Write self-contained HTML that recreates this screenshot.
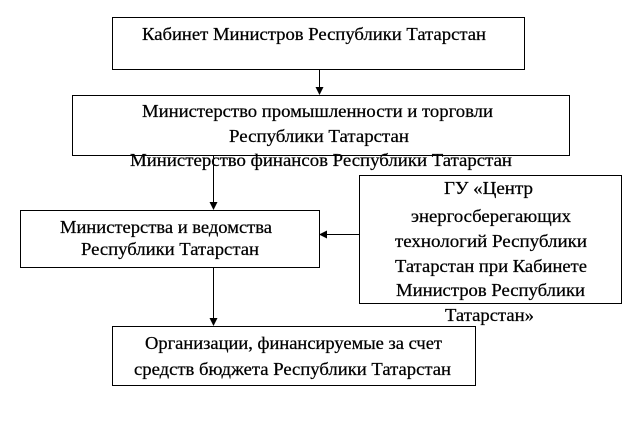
<!DOCTYPE html>
<html><head><meta charset="utf-8"><style>
html,body{margin:0;padding:0;background:#fff;}
svg{display:block;}
text{font-family:"Liberation Serif",serif;font-size:17.5px;fill:#000;stroke:#000;stroke-width:0.25px;}
</style></head><body>
<svg width="637" height="424" viewBox="0 0 637 424" xmlns="http://www.w3.org/2000/svg">
<defs><marker id="a" markerWidth="8" markerHeight="8" refX="7" refY="4" orient="auto" markerUnits="userSpaceOnUse"><path d="M0,0 L8,4 L0,8 z" fill="#000"/></marker></defs>
<g fill="none" stroke="#000" stroke-width="1">
<rect x="112.5" y="17.5" width="412" height="52"/>
<rect x="72.5" y="95.5" width="497" height="60"/>
<rect x="20.5" y="210.5" width="299" height="57"/>
<rect x="359.5" y="175.5" width="262" height="128"/>
<rect x="112.5" y="326.5" width="363" height="59"/>
<line x1="319.5" y1="70" x2="319.5" y2="94" marker-end="url(#a)"/>
<line x1="213.5" y1="156" x2="213.5" y2="209" marker-end="url(#a)"/>
<line x1="359" y1="234.5" x2="320" y2="234.5" marker-end="url(#a)"/>
<line x1="213.5" y1="268" x2="213.5" y2="325" marker-end="url(#a)"/>
</g>
<text x="142" y="40" textLength="344" lengthAdjust="spacingAndGlyphs">Кабинет Министров Республики Татарстан</text>
<text x="142" y="117" textLength="351" lengthAdjust="spacingAndGlyphs">Министерство промышленности и торговли</text>
<text x="229" y="142" textLength="180" lengthAdjust="spacingAndGlyphs">Республики Татарстан</text>
<text x="130" y="166" textLength="382" lengthAdjust="spacingAndGlyphs">Министерство финансов Республики Татарстан</text>
<text x="60" y="233" textLength="212" lengthAdjust="spacingAndGlyphs">Министерства и ведомства</text>
<text x="81" y="255" textLength="178" lengthAdjust="spacingAndGlyphs">Республики Татарстан</text>
<text x="444" y="194" textLength="89" lengthAdjust="spacingAndGlyphs">ГУ «Центр</text>
<text x="411" y="222" textLength="160" lengthAdjust="spacingAndGlyphs">энергосберегающих</text>
<text x="395" y="247" textLength="192" lengthAdjust="spacingAndGlyphs">технологий Республики</text>
<text x="395" y="272" textLength="192" lengthAdjust="spacingAndGlyphs">Татарстан при Кабинете</text>
<text x="396" y="296" textLength="189" lengthAdjust="spacingAndGlyphs">Министров Республики</text>
<text x="445" y="321" textLength="89" lengthAdjust="spacingAndGlyphs">Татарстан»</text>
<text x="145" y="349" textLength="297" lengthAdjust="spacingAndGlyphs">Организации, финансируемые за счет</text>
<text x="134" y="375" textLength="317" lengthAdjust="spacingAndGlyphs">средств бюджета Республики Татарстан</text>
</svg>
</body></html>
